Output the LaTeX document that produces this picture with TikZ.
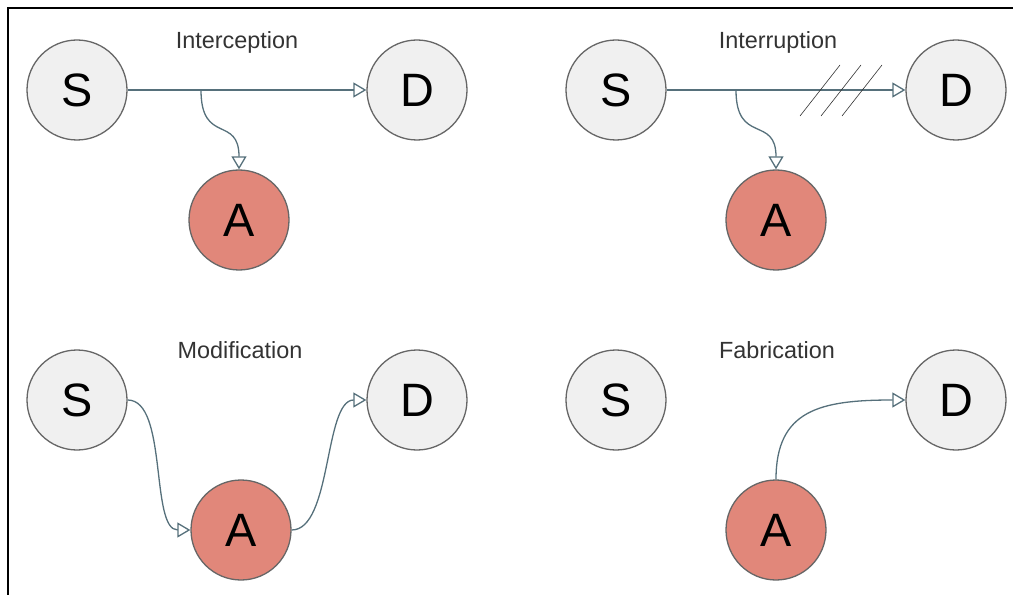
\documentclass[tikz,border=0pt]{standalone}
\usepackage{fontspec}
\setmainfont{Liberation Sans}
\usetikzlibrary{arrows.meta}

\definecolor{nodefill}{HTML}{F0F0F0}
\definecolor{nodeline}{HTML}{666666}
\definecolor{attfill}{HTML}{E1877A}
\definecolor{edgecol}{HTML}{56707B}
\definecolor{titlecol}{HTML}{333333}

\begin{document}
\begin{tikzpicture}[x=1bp, y=-1bp,
    party/.style={circle, draw=nodeline, fill=nodefill, line width=1.3bp,
        minimum size=100bp, inner sep=0pt, font=\fontsize{47}{47}\selectfont},
    attacker/.style={party, fill=attfill},
    title/.style={anchor=base, text=titlecol, font=\fontsize{23.5}{23.5}\selectfont},
    flow/.style={draw=edgecol, line width=1.3bp,
        -{Triangle[open, length=13bp, width=15bp]}}]
    \useasboundingbox (0,0) rectangle (1013,595);
    % frame
    \draw[line width=1.5bp] (8,595) -- (8,8) -- (1013,8);

    % interception
    \node[title] (t1) at (237,49) {Interception};
    \node[party] (s1) at (77,90) {S};
    \node[party] (d1) at (417,90) {D};
    \node[attacker] (a1) at (239,220) {A};
    \coordinate (b1) at (201,90);
    \draw[flow] (s1) -- (d1);
    \draw[flow] (b1) .. controls (201,145) and (239,115) .. (a1.north);

    % interruption
    \node[title] (t2) at (778,49) {Interruption};
    \node[party] (s2) at (616,90) {S};
    \node[party] (d2) at (956,90) {D};
    \node[attacker] (a2) at (776,220) {A};
    \coordinate (b2) at (736,90);
    \draw[flow] (s2) -- (d2);
    \draw[flow] (b2) .. controls (736,145) and (776,115) .. (a2.north);
    \foreach \dx in {0,21,42}
        \draw[line width=0.6bp, black!80] (800+\dx,116) -- (840+\dx,65);

    % modification
    \node[title] (t3) at (240,358) {Modification};
    \node[party] (s3) at (77,400) {S};
    \node[party] (d3) at (417,400) {D};
    \node[attacker] (a3) at (241,530) {A};
    \draw[flow] (s3.east) .. controls (168,400) and (150,530) .. (a3.west);
    \draw[flow] (a3.east) .. controls (332,530) and (324,400) .. (d3.west);

    % fabrication
    \node[title] (t4) at (777,358) {Fabrication};
    \node[party] (s4) at (616,400) {S};
    \node[party] (d4) at (956,400) {D};
    \node[attacker] (a4) at (776,530) {A};
    \draw[flow] (a4.north) .. controls (776,410) and (820,400) .. (d4.west);
\end{tikzpicture}
\end{document}
